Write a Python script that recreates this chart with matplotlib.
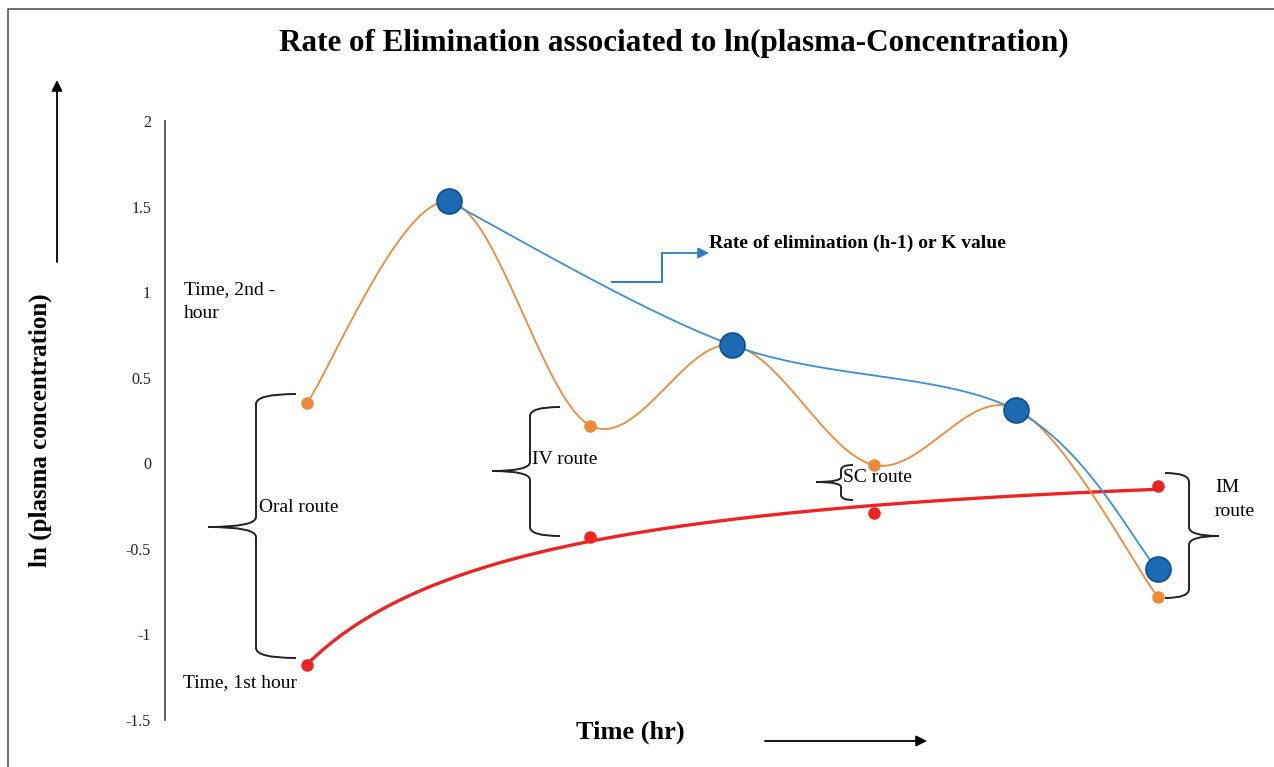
import numpy as np
import matplotlib.pyplot as plt
from matplotlib.path import Path
from matplotlib.patches import PathPatch, FancyArrowPatch
from matplotlib.lines import Line2D

plt.rcParams['font.family'] = ['Liberation Serif', 'DejaVu Serif']

W, H = 1274, 767

# data
hours = [1, 2, 3, 4, 5, 6, 7]
orange_vals = [0.35, 1.53, 0.22, 0.69, -0.01, 0.32, -0.78]
k_hours = [2, 4, 6, 7]
k_vals = [1.53, 0.69, 0.31, -0.62]
red_hours = [1, 3, 5, 7]
red_vals = [-1.18, -0.43, -0.29, -0.13]
yticks = [2, 1.5, 1, 0.5, 0, -0.5, -1, -1.5]
ytick_labels = ['2', '1.5', '1', '0.5', '0', '-0.5', '-1', '-1.5']


def smooth(x, y, n=40):
    # excel style smoothed line: bezier with control points at 1/6 of neighbour diff
    p = np.column_stack([x, y]).astype(float)
    out = []
    for i in range(len(p) - 1):
        a = p[max(i - 1, 0)]
        d = p[min(i + 2, len(p) - 1)]
        p0, p3 = p[i], p[i + 1]
        c1 = p0 + (p3 - a) / 6
        c2 = p3 - (d - p0) / 6
        t = np.linspace(0, 1, n)[:, None]
        out.append((1 - t)**3 * p0 + 3 * (1 - t)**2 * t * c1 + 3 * (1 - t) * t**2 * c2 + t**3 * p3)
    out = np.vstack(out)
    return out[:, 0], out[:, 1]


def fpos(x, y):
    # pixel position -> figure fraction
    return (x / W, 1 - y / H)


fig = plt.figure(figsize=(W / 100, H / 100), dpi=100)
ax = fig.add_axes([165 / W, 47 / H, (1260 - 165) / W, 599 / H])
ax.set_xlim(0, (1260 - 165) / 141.8)
ax.set_ylim(-1.5, 2)

for s in ['top', 'right', 'bottom']:
    ax.spines[s].set_visible(False)
ax.spines['left'].set_color('#444444')
ax.spines['left'].set_linewidth(1.2)
ax.set_xticks([])
ax.set_yticks(yticks)
ax.set_yticklabels(ytick_labels)
ax.tick_params(axis='y', length=0, pad=10, labelsize=11.5, labelcolor='#222222')

# red trend line (log-quadratic fit)
coef = np.polyfit(np.log(red_hours), red_vals, 2)
xr = np.linspace(1, 7, 200)
ax.plot(xr, np.polyval(coef, np.log(xr)), color='#EE2424', lw=2.4, zorder=2)
ax.plot(red_hours, red_vals, 'o', color='#EE2424', ms=8, zorder=3)

# orange smoothed line
xo, yo = smooth(hours, orange_vals)
ax.plot(xo, yo, color='#F0883A', lw=1.3, zorder=3)
ax.plot(hours, orange_vals, 'o', color='#F0883A', ms=8, zorder=4)

# blue smoothed line (K value)
xb, yb = smooth(k_hours, k_vals)
ax.plot(xb, yb, color='#3D8FD4', lw=1.3, zorder=4)
ax.plot(k_hours, k_vals, 'o', ms=18, mfc='#1B6AB2', mec='#114E8C', mew=1.2, zorder=5)

# title and axis labels
fig.text(*fpos(674, 43), 'Rate of Elimination associated to ln(plasma-Concentration)',
         ha='center', va='center', fontsize=22.4, fontweight='bold')
fig.text(*fpos(40, 430), 'ln (plasma concentration)', rotation=90,
         ha='center', va='center', fontsize=18, fontweight='bold')
fig.text(*fpos(576, 732), 'Time (hr)', ha='left', va='center', fontsize=19, fontweight='bold')
fig.text(*fpos(709, 243), 'Rate of elimination (h-1) or K value', ha='left', va='center',
         fontsize=14, fontweight='bold')

# annotations
fs = 14
fig.text(*fpos(184, 290), 'Time, 2nd -', ha='left', va='center', fontsize=fs)
fig.text(*fpos(184, 313), 'hour', ha='left', va='center', fontsize=fs)
fig.text(*fpos(183, 683), 'Time, 1st hour', ha='left', va='center', fontsize=fs)
fig.text(*fpos(259, 508), 'Oral route', ha='left', va='center', fontsize=fs)
fig.text(*fpos(532, 459), 'IV route', ha='left', va='center', fontsize=fs)
fig.text(*fpos(843, 478), 'SC route', ha='left', va='center', fontsize=fs)
fig.text(*fpos(1215, 488), 'IM', ha='left', va='center', fontsize=fs)
fig.text(*fpos(1215, 512), 'route', ha='left', va='center', fontsize=fs)


def brace(xe, xs, xt, yt, ym, yb, r):
    v = [(xe, yt), (xs, yt), (xs, yt + r), (xs, ym - r), (xs, ym), (xt, ym),
         (xs, ym), (xs, ym + r), (xs, yb - r), (xs, yb), (xe, yb)]
    c = [Path.MOVETO, Path.CURVE3, Path.CURVE3, Path.LINETO, Path.CURVE3, Path.CURVE3,
         Path.CURVE3, Path.CURVE3, Path.LINETO, Path.CURVE3, Path.CURVE3]
    v = [fpos(x, y) for x, y in v]
    fig.add_artist(PathPatch(Path(v, c), fill=False, lw=1.4, ec='#222222',
                             transform=fig.transFigure))


brace(296, 256, 208, 394, 527, 658, 10)
brace(560, 530, 492, 407, 471, 536, 9)
brace(853, 841, 816, 465, 482, 500, 5)
brace(1165, 1189, 1219, 473, 536, 598, 9)

# arrows
def arrow(a, b, color='black'):
    fig.add_artist(FancyArrowPatch(fpos(*a), fpos(*b), transform=fig.transFigure,
                                   arrowstyle='-|>', mutation_scale=16, lw=1.3, color=color,
                                   shrinkA=0, shrinkB=0))


arrow((57, 262), (57, 80))
arrow((765, 741), (927, 741))
bx, by = zip(*[fpos(612, 282), fpos(662, 282), fpos(662, 253)])
fig.add_artist(Line2D(bx, by, transform=fig.transFigure, color='#2E7CC4', lw=1.4))
arrow((662, 253), (709, 253), color='#2E7CC4')

# frame lines top/left
fig.add_artist(Line2D([8 / W, 8 / W, 1], [0, 1 - 9 / H, 1 - 9 / H], transform=fig.transFigure,
                      color='#555555', lw=1.2))

fig.savefig('out.png', dpi=100)
